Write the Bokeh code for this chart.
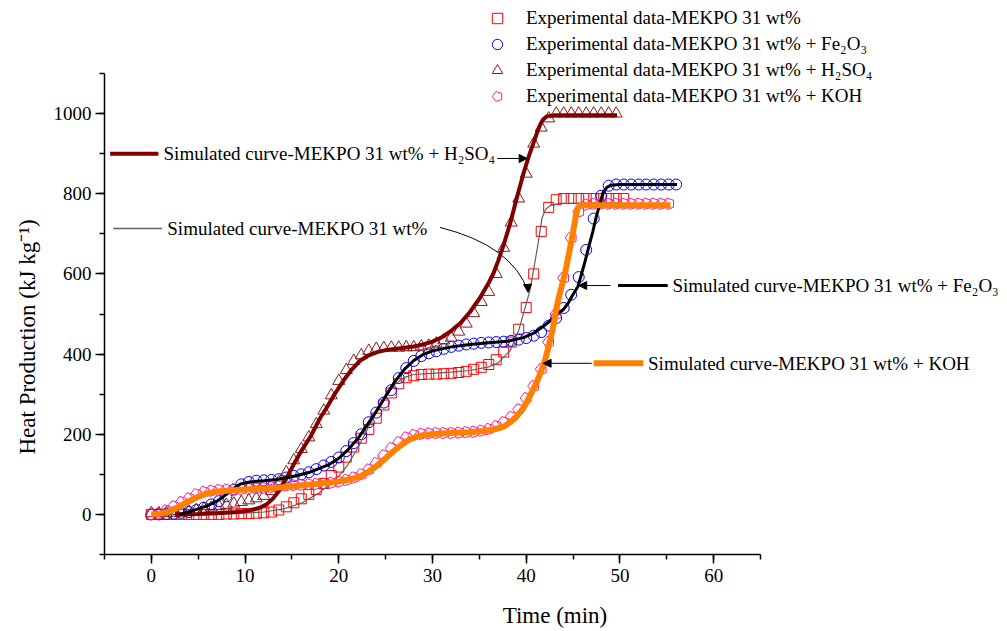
import math
from bokeh.plotting import figure
from bokeh.models import (Range1d, SingleIntervalTicker, Legend, LegendItem,
                          Label, Arrow, NormalHead, Title)
from bokeh.core.properties import value
from bokeh.embed import file_html
from bokeh.resources import INLINE

# ---------------- data ----------------
T_EXP = [0.0, 0.8, 1.6, 2.4, 3.2, 4.0, 4.8, 5.6, 6.4, 7.2, 8.0, 8.8, 9.6, 10.4, 11.2,
         12.0, 12.8, 13.6, 14.4, 15.2, 16.0, 16.8, 17.6, 18.4, 19.2, 20.0, 20.8, 21.6,
         22.4, 23.2, 24.0, 24.8, 25.6, 26.4, 27.2, 28.0, 28.8, 29.6, 30.4, 31.2, 32.0,
         32.8, 33.6, 34.4, 35.2, 36.0, 36.8, 37.6, 38.4, 39.2, 40.0, 40.8, 41.6, 42.4,
         43.2, 44.0, 44.8, 45.6, 46.4, 47.2, 48.0, 48.8, 49.6, 50.4, 51.2, 52.0, 52.8,
         53.6, 54.4, 55.2, 56.0]

H_MEKPO = [0, 0, 0, 0, 0, 0, 0, 0, 0, 0, 1, 1, 2, 2, 3, 4, 6, 11, 19, 29, 39, 50, 62,
           77, 97, 118, 143, 168, 190, 212, 240, 273, 303, 326, 341, 346, 349, 350, 350,
           351, 352, 354, 357, 362, 367, 374, 386, 405, 430, 462, 516, 600, 706, 766,
           785, 788, 788, 788, 788, 788, 788, 788, 788, 788]

H_FE2O3 = [0, 0, 1, 2, 4, 6, 11, 17, 25, 33, 45, 62, 75, 81, 84, 85, 86, 88, 92, 96,
           100, 105, 113, 122, 131, 142, 158, 178, 200, 230, 254, 279, 310, 340, 365,
           383, 395, 402, 407, 413, 418, 421, 424, 426, 428, 429, 430, 431, 433, 436,
           440, 446, 455, 471, 490, 515, 548, 592, 660, 738, 795, 820, 823, 823, 823,
           823, 823, 823, 823, 823, 823]

H_H2SO4 = [3, 3, 3, 4, 5, 8, 11, 14, 17, 21, 24, 27, 31, 35, 40, 46, 58, 80, 105, 135,
           163, 192, 225, 259, 297, 333, 360, 383, 397, 408, 413, 415, 416, 416, 417,
           417, 419, 421, 426, 434, 441, 456, 476, 502, 530, 555, 600, 665, 728, 788,
           850, 925, 965, 988, 1000, 1000, 1000, 1000, 1000, 1000, 1000, 1000, 1000]

H_KOH = [0, 2, 10, 20, 31, 40, 50, 56, 59, 61, 62, 62, 63, 64, 65, 66, 68, 70, 72, 73,
         74, 75, 76, 77, 79, 82, 86, 92, 100, 112, 128, 147, 165, 180, 192, 198, 201,
         202, 203, 203, 203, 204, 205, 206, 209, 213, 220, 230, 243, 262, 290, 320, 362,
         430, 500, 590, 690, 755, 773, 775, 775, 775, 775, 775, 775, 775, 775, 775, 775,
         775]

SIM_MEKPO_T = [0, 5, 9, 12, 14, 16, 18, 20, 21, 22, 23, 24, 25, 26, 27, 28, 30, 32, 34,
               36, 37, 38.3, 39.2, 39.7, 40.4, 41.2, 41.7, 42.1, 42.6, 43.6, 50]
SIM_MEKPO_H = [0, 0, 2, 6, 13, 28, 55, 95, 125, 165, 210, 255, 295, 325, 342, 349, 352,
               355, 359, 368, 378, 409, 459, 501, 559, 666, 741, 762, 771, 776, 778]

SIM_FE2O3_T = [3, 4.2, 5, 6, 7, 8, 8.8, 9.5, 10.5, 12, 13.4, 15, 17, 19, 20, 21, 22, 23,
               24, 25, 26, 27, 28, 29, 30, 32, 34, 36, 38, 39.7, 40.8, 41.5, 42.3, 42.9,
               43.5, 44, 44.5, 44.9, 45.5, 45.8, 46.3, 46.7, 47.1, 47.5, 47.8, 48.2,
               48.6, 49, 50, 56.1]
SIM_FE2O3_H = [0, 8, 14, 22, 33, 50, 65, 76, 81, 84, 87, 94, 106, 125, 140, 162, 188,
               222, 257, 295, 332, 362, 384, 399, 408, 418, 424, 428, 432, 441, 452, 464,
               478, 490, 503, 512, 528, 545, 568, 591, 633, 670, 705, 745, 770, 803, 816,
               821, 823, 823]

SIM_H2SO4_T = [2.5, 5, 7, 9, 10.5, 11.5, 12.3, 13, 13.6, 14.4, 15.2, 16, 17, 18, 18.8,
               19.5, 20.5, 21.4, 22.3, 23.2, 24.1, 25, 26, 27, 28, 29, 30, 31, 32, 33,
               34, 35, 36, 36.5, 37, 37.6, 38.3, 39, 39.7, 40.3, 40.8, 41.2, 41.5, 41.8,
               42.2, 43, 49.7]
SIM_H2SO4_H = [0, 1, 3, 6, 10, 16, 25, 40, 58, 90, 125, 158, 195, 240, 270, 298, 334,
               362, 384, 397, 405, 410, 413, 416, 419, 424, 431, 442, 458, 478, 505, 538,
               578, 601, 632, 673, 727, 790, 850, 895, 928, 955, 973, 985, 993, 996, 996]

SIM_KOH_T = [0, 1, 2, 3, 4, 5, 6, 7, 8.8, 10, 12.4, 14, 15.9, 18, 19.4, 20.5, 21.5,
             22.3, 23, 23.7, 24.4, 25, 25.8, 26.6, 27.4, 28.2, 29, 30.5, 32, 34, 35.5,
             36.5, 37.6, 38.3, 39, 39.6, 40.1, 40.6, 41.2, 41.6, 42, 42.4, 42.8, 43.4,
             44.2, 44.9, 45.3, 45.5, 45.8, 55.4]
SIM_KOH_H = [0, 2, 8, 20, 33, 44, 53, 57, 60, 62, 65, 68, 72, 77, 80, 84, 89, 95, 104,
             115, 128, 140, 157, 172, 185, 193, 198, 201, 203, 205, 208, 212, 219, 230,
             245, 262, 282, 305, 334, 358, 384, 420, 459, 534, 608, 691, 745, 765, 771,
             771]

X_TICK_BOUNDS = (-5, 65)
Y_TICK_BOUNDS = (-100, 1100)

X_LABEL = "Time (min)"
Y_LABEL = "Heat Production (kJ kg\u207b\u00b9)"
LEGEND_LABELS = ["Experimental data-MEKPO 31 wt%",
                 "Experimental data-MEKPO 31 wt% + Fe\u2082O\u2083",
                 "Experimental data-MEKPO 31 wt% + H\u2082SO\u2084",
                 "Experimental data-MEKPO 31 wt% + KOH"]
SIM_LABELS = ["Simulated curve-MEKPO 31 wt% + H\u2082SO\u2084",
              "Simulated curve-MEKPO 31 wt%",
              "Simulated curve-MEKPO 31 wt% + Fe\u2082O\u2083",
              "Simulated curve-MEKPO 31 wt% + KOH"]

# ---------------- layout / styling ----------------
FONT = "Liberation Serif"
C_RED = "#FF0000"
C_BLUE = "#0000FF"
C_TRI = "#8B1A1A"
C_PINK = "#FF1C8C"
C_GRAY = "#606060"
C_DARKRED = "#800000"
C_BLACK = "#000000"
C_ORANGE = "#FF8000"

W, H = 1005, 631
LEFT, BOTTOM = 104, 77          # frame left edge / space under the x axis
PX_PER_X = 656 / 70.0           # pixels per minute (axis spans -5..65 over 656 px)
PX_PER_Y = 481 / 1200.0         # pixels per kJ/kg (axis spans -100..1100 over 481 px)
frame_w = W - LEFT
frame_h = H - BOTTOM
x_end = X_TICK_BOUNDS[0] + frame_w / PX_PER_X
y_end = Y_TICK_BOUNDS[0] + frame_h / PX_PER_Y

p = figure(width=W, height=H,
           x_range=Range1d(X_TICK_BOUNDS[0], x_end),
           y_range=Range1d(Y_TICK_BOUNDS[0], y_end),
           output_backend="svg", toolbar_location=None,
           min_border_left=LEFT, min_border_right=0, min_border_top=0,
           min_border_bottom=BOTTOM)
p.outline_line_color = None
p.grid.visible = False
p.background_fill_color = "white"
p.border_fill_color = "white"

p.xaxis.ticker = SingleIntervalTicker(interval=10, num_minor_ticks=2)
p.yaxis.ticker = SingleIntervalTicker(interval=200, num_minor_ticks=2)
p.xaxis.bounds = X_TICK_BOUNDS
p.yaxis.bounds = Y_TICK_BOUNDS
p.xaxis.axis_label = X_LABEL
for ax in (p.xaxis[0], p.yaxis[0]):
    ax.axis_line_width = 1.5
    ax.axis_line_color = "black"
    ax.major_tick_line_width = 1.5
    ax.minor_tick_line_width = 1.5
    ax.major_tick_line_color = "black"
    ax.minor_tick_line_color = "black"
    ax.major_tick_in = 0
    ax.major_tick_out = 9
    ax.minor_tick_in = 0
    ax.minor_tick_out = 5
    ax.major_label_text_font = FONT
    ax.major_label_text_font_size = "19px"
    ax.major_label_text_color = "black"
    ax.axis_label_text_font = FONT
    ax.axis_label_text_font_size = "23px"
    ax.axis_label_text_font_style = "normal"
    ax.axis_label_text_color = "black"
p.xaxis.major_label_standoff = 5
p.xaxis.axis_label_standoff = 18
p.yaxis.major_label_standoff = 4

# y-axis title, placed along the axis (starts ~100 px above the frame bottom)
p.add_layout(Title(text=Y_LABEL, align="left", offset=100, standoff=22,
                   vertical_align="bottom", text_font=FONT, text_font_size="23px",
                   text_font_style="normal", text_color="black"), "left")

# ---------------- experimental markers ----------------
r_sq = p.scatter(T_EXP[:len(H_MEKPO)], H_MEKPO, marker="square", size=10,
                 fill_color=None, line_color=C_RED, line_width=1)
r_ci = p.scatter(T_EXP[:len(H_FE2O3)], H_FE2O3, marker="circle", size=11,
                 fill_color=None, line_color=C_BLUE, line_width=1)
r_tr = p.scatter(T_EXP[:len(H_H2SO4)], H_H2SO4, marker="triangle", size=12,
                 fill_color=None, line_color=C_TRI, line_width=1)
try:
    r_pe = p.ngon(x=T_EXP[:len(H_KOH)], y=H_KOH, radius=6, radius_units="screen",
                  n=5, angle=math.pi / 2, fill_color=None, line_color=C_PINK,
                  line_width=1)
except Exception:
    r_pe = p.scatter(T_EXP[:len(H_KOH)], H_KOH, marker="hex", size=11,
                     fill_color=None, line_color=C_PINK, line_width=1)

# ---------------- simulated curves ----------------
p.line(SIM_MEKPO_T, SIM_MEKPO_H, line_color=C_GRAY, line_width=1.2)
p.line(SIM_H2SO4_T, SIM_H2SO4_H, line_color=C_DARKRED, line_width=4)
p.line(SIM_FE2O3_T, SIM_FE2O3_H, line_color=C_BLACK, line_width=3)
p.line(SIM_KOH_T, SIM_KOH_H, line_color=C_ORANGE, line_width=6)

# ---------------- legend ----------------
legend = Legend(items=[LegendItem(label=value(LEGEND_LABELS[0]), renderers=[r_sq]),
                       LegendItem(label=value(LEGEND_LABELS[1]), renderers=[r_ci]),
                       LegendItem(label=value(LEGEND_LABELS[2]), renderers=[r_tr]),
                       LegendItem(label=value(LEGEND_LABELS[3]), renderers=[r_pe])],
                location=(380, 445), orientation="vertical",
                glyph_width=26, glyph_height=26, label_height=26, spacing=0,
                label_standoff=16, padding=0, margin=0,
                border_line_color=None, background_fill_alpha=0,
                label_text_font=FONT, label_text_font_size="19px",
                label_text_color="black")
p.add_layout(legend)

# ---------------- in-plot annotations ----------------
ANN = [  # sample x0, x1, y, text x, line colour, line width
    (-4.4, 0.75, 900, 1.3, C_DARKRED, 4),
    (-4.06, 1.17, 713, 1.7, C_GRAY, 1.5),
    (49.8, 55.1, 571, 55.6, C_BLACK, 3),
    (47.2, 52.5, 377, 53.0, C_ORANGE, 6),
]
for (sx0, sx1, sy, tx, col, lw), txt in zip(ANN, SIM_LABELS):
    p.segment(x0=[sx0], y0=[sy], x1=[sx1], y1=[sy], line_color=col, line_width=lw)
    p.add_layout(Label(x=tx, y=sy, text=txt, text_font=FONT, text_font_size="19px",
                       text_color="black", text_baseline="middle", text_align="left"))

ARROWS = [  # x_start, y_start, x_end, y_end
    (36.9, 888, 40.1, 888),
    (49.0, 571, 45.6, 571),
    (47.0, 377, 41.8, 377),
]
for xs, ys, xe, ye in ARROWS:
    p.add_layout(Arrow(x_start=xs, y_start=ys, x_end=xe, y_end=ye,
                       line_color="black", line_width=1,
                       end=NormalHead(size=8, fill_color="black", line_color="black")))

# curved pointer to the MEKPO simulated curve
p.quadratic(x0=[30.8], y0=[716], x1=[40.2], y1=[556], cx=[38.5], cy=[671],
            line_color="black", line_width=1)
p.add_layout(Arrow(x_start=40.12, y_start=585, x_end=40.2, y_end=554,
                   line_alpha=0,
                   end=NormalHead(size=8, fill_color="black", line_color="black")))

open("out.html", "w").write(file_html(p, INLINE))
